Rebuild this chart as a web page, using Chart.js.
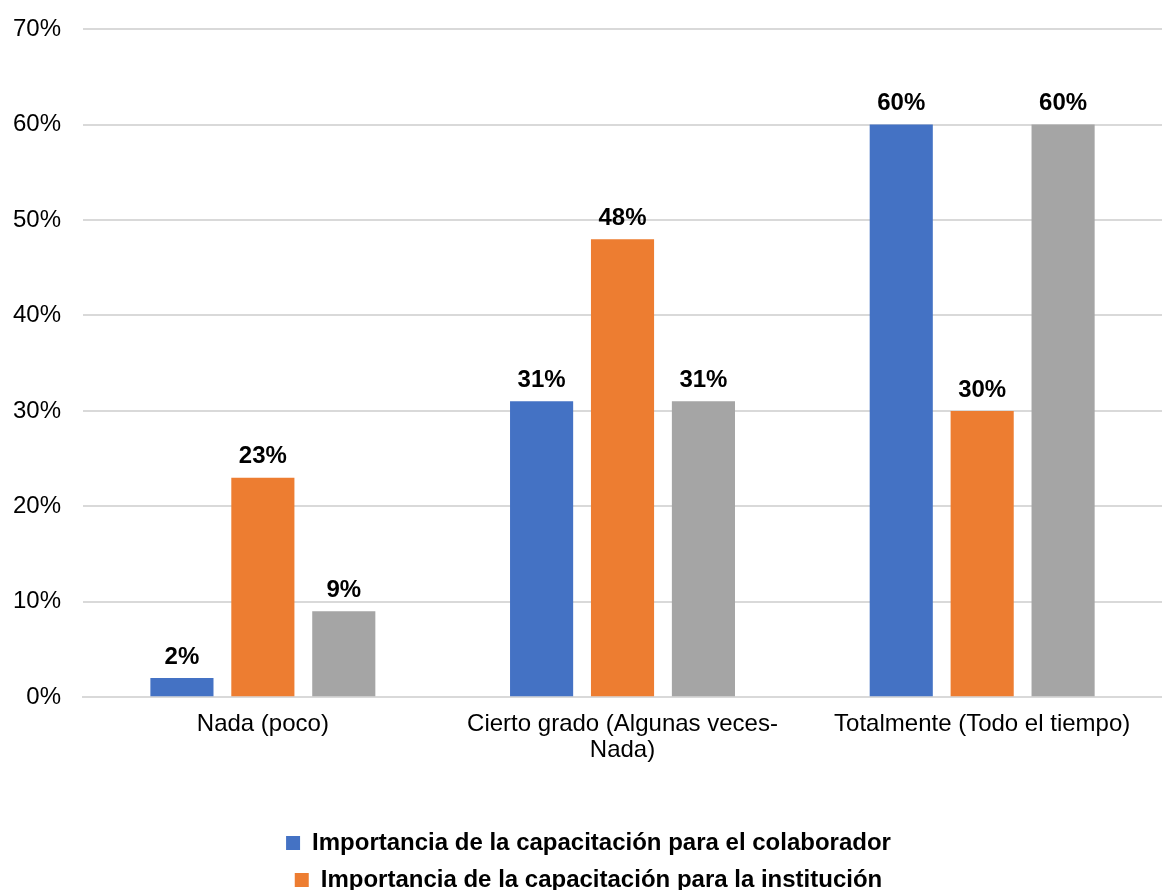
<!DOCTYPE html>
<html>
<head>
<meta charset="utf-8">
<script src="https://cdn.jsdelivr.net/npm/chart.js@4.4.0/dist/chart.umd.min.js"></script>
<style>
	html, body { margin: 0; padding: 0; background: #fff; }
	#wrap { width: 1162px; height: 890px; }
</style>
</head>
<body>
<div id="wrap"><canvas id="myChart" width="1162" height="890"></canvas></div>
<script>
var categorias = ["Nada (poco)", ["Cierto grado (Algunas veces-", "Nada)"], "Totalmente (Todo el tiempo)"];
var colaborador = [2, 31, 60];
var institucion = [23, 48, 30];
var tercera = [9, 31, 60];
var ticksY = [0, 10, 20, 30, 40, 50, 60, 70];

var fuente = '"Liberation Sans", Arial, sans-serif';

// etiquetas de valor encima de cada barra
var etiquetas = {
	id : 'etiquetas',
	afterDatasetsDraw : function(chart) {
		var ctx = chart.ctx;
		ctx.save();
		ctx.font = 'bold 24px ' + fuente;
		ctx.fillStyle = '#000';
		ctx.textAlign = 'center';
		ctx.textBaseline = 'bottom';
		chart.data.datasets.forEach(function(ds, i) {
			var meta = chart.getDatasetMeta(i);
			meta.data.forEach(function(bar, j) {
				ctx.fillText(ds.data[j] + '%', bar.x, bar.y - 9);
			});
		});
		ctx.restore();
	}
};

// corre un poco la leyenda a la derecha
var moverLeyenda = {
	id : 'moverLeyenda',
	afterLayout : function(chart) {
		var lg = chart.legend;
		if (!lg) return;
		lg.left += 12;
		lg.right += 12;
		lg.top += 1;
		lg.bottom += 1;
	}
};

var ctx = document.getElementById('myChart').getContext('2d');
var chart = new Chart(ctx, {
	type : 'bar',
	data : {
		labels : categorias,
		datasets : [ {
			label : "Importancia de la capacitación para el colaborador",
			backgroundColor : '#4472c4',
			data : colaborador
		}, {
			label : "Importancia de la capacitación para la institución",
			backgroundColor : '#ed7d31',
			data : institucion
		}, {
			label : "Serie 3",
			backgroundColor : '#a5a5a5',
			data : tercera
		} ]
	},
	plugins : [ etiquetas, moverLeyenda ],
	options : {
		responsive : false,
		animation : false,
		barPercentage : 0.78,
		categoryPercentage : 0.675,
		layout : {
			padding : { left : -9, right : 0, top : 1, bottom : -11 }
		},
		scales : {
			x : {
				grid : { display : false, drawTicks : false },
				border : { color : '#d9d9d9', width : 2 },
				ticks : {
					color : '#000',
					padding : 14,
					maxRotation : 0,
					font : { family : fuente, size : 24, lineHeight : 1.08 }
				},
				afterFit : function(scale) {
					scale.height += 40;
				}
			},
			y : {
				min : 0,
				max : 70,
				afterBuildTicks : function(axis) {
					axis.ticks = ticksY.map(function(v) { return { value : v }; });
				},
				grid : { color : '#d9d9d9', lineWidth : 2, drawTicks : false },
				border : { display : false },
				ticks : {
					color : '#000',
					padding : 22,
					font : { family : fuente, size : 24, lineHeight : 0.6 },
					callback : function(v) { return v + '%'; }
				}
			}
		},
		plugins : {
			tooltip : { enabled : false },
			legend : {
				position : 'bottom',
				align : 'center',
				labels : {
					color : '#000',
					boxWidth : 14,
					boxHeight : 14,
					padding : 13,
					font : { family : fuente, size : 24, weight : 'bold' },
					filter : function(item) { return item.datasetIndex < 2; }
				}
			}
		}
	}
});
</script>
</body>
</html>
